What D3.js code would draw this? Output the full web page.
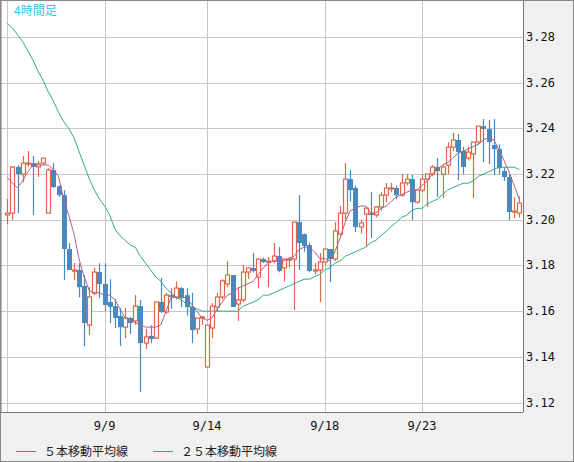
<!DOCTYPE html>
<html>
<head>
<meta charset="utf-8">
<script src="https://cdn.jsdelivr.net/npm/d3@7.9.0/dist/d3.min.js"></script>
<style>
  body { margin: 0; background: #f0f0f0; }
  svg { display: block; }
</style>
</head>
<body>
<svg id="chart" width="574" height="462"></svg>
<script>
// 4-hour candles: [open, high, low, close]
const candles = [
  [3.2021,3.2091,3.1981,3.2029],[3.2029,3.2235,3.1999,3.2231],[3.2231,3.2239,3.2029,3.2200],[3.2200,3.2279,3.2165,3.2248],
  [3.2244,3.2301,3.2231,3.2248],[3.2248,3.2279,3.2021,3.2231],[3.2231,3.2257,3.2187,3.2244],[3.2248,3.2270,3.2240,3.2270],
  [3.2029,3.2226,3.2029,3.2218],[3.2218,3.2248,3.2140,3.2143],[3.2147,3.2150,3.2100,3.2108],[3.2108,3.2130,3.1736,3.1872],
  [3.1872,3.1898,3.1780,3.1780],[3.1775,3.1810,3.1736,3.1780],[3.1780,3.1810,3.1660,3.1705],[3.1710,3.1758,3.1447,3.1548],
  [3.1539,3.1705,3.1495,3.1662],[3.1679,3.1790,3.1670,3.1771],[3.1771,3.1810,3.1657,3.1719],[3.1719,3.1810,3.1600,3.1627],
  [3.1640,3.1740,3.1548,3.1618],[3.1622,3.1653,3.1526,3.1570],[3.1579,3.1614,3.1447,3.1530],[3.1530,3.1614,3.1482,3.1570],
  [3.1570,3.1574,3.1500,3.1548],[3.1557,3.1670,3.1540,3.1622],[3.1622,3.1649,3.1246,3.1460],[3.1460,3.1522,3.1434,3.1487],
  [3.1491,3.1539,3.1460,3.1478],[3.1482,3.1640,3.1478,3.1640],[3.1640,3.1745,3.1592,3.1596],[3.1596,3.1679,3.1590,3.1670],
  [3.1670,3.1700,3.1610,3.1662],[3.1662,3.1730,3.1650,3.1701],[3.1701,3.1705,3.1618,3.1657],[3.1670,3.1700,3.1580,3.1618],
  [3.1618,3.1680,3.1460,3.1517],[3.1522,3.1560,3.1500,3.1570],[3.1570,3.1580,3.1540,3.1574],[3.1355,3.1539,3.1351,3.1539],
  [3.1526,3.1635,3.1482,3.1622],[3.1618,3.1680,3.1600,3.1662],[3.1662,3.1740,3.1650,3.1733],[3.1719,3.1819,3.1705,3.1758],
  [3.1758,3.1758,3.1618,3.1618],[3.1631,3.1705,3.1557,3.1649],[3.1649,3.1802,3.1640,3.1771],[3.1771,3.1790,3.1740,3.1789],
  [3.1789,3.1854,3.1770,3.1776],[3.1749,3.1830,3.1700,3.1828],[3.1828,3.1835,3.1810,3.1815],[3.1815,3.1837,3.1705,3.1819],
  [3.1819,3.1898,3.1810,3.1841],[3.1841,3.1880,3.1770,3.1776],[3.1789,3.1830,3.1730,3.1828],[3.1826,3.1837,3.1790,3.1828],
  [3.1828,3.1990,3.1605,3.1990],[3.1990,3.2108,3.1780,3.1898],[3.1937,3.1940,3.1860,3.1885],[3.1889,3.1900,3.1770,3.1776],
  [3.1778,3.1810,3.1760,3.1780],[3.1780,3.1854,3.1640,3.1815],[3.1815,3.1840,3.1800,3.1872],[3.1872,3.1872,3.1727,3.1828],
  [3.1828,3.1990,3.1820,3.1951],[3.1937,3.2060,3.1930,3.2029],[3.2029,3.2248,3.2000,3.2178],[3.2178,3.2218,3.2080,3.2130],
  [3.2139,3.2150,3.1946,3.1968],[3.1968,3.2000,3.1940,3.1986],[3.2025,3.2056,3.1885,3.2051],[3.2029,3.2121,3.1920,3.2021],
  [3.2021,3.2060,3.2010,3.2056],[3.2056,3.2121,3.2040,3.2108],[3.2108,3.2161,3.2077,3.2139],[3.2137,3.2161,3.2120,3.2139],
  [3.2139,3.2150,3.2090,3.2108],[3.2108,3.2200,3.2100,3.2161],[3.2161,3.2200,3.2150,3.2178],[3.2178,3.2196,3.1999,3.2077],
  [3.2077,3.2100,3.2070,3.2130],[3.2130,3.2200,3.2120,3.2178],[3.2178,3.2200,3.2056,3.2200],[3.2200,3.2239,3.2190,3.2231],
  [3.2231,3.2270,3.2100,3.2213],[3.2200,3.2239,3.2095,3.2231],[3.2239,3.2340,3.2200,3.2318],[3.2318,3.2380,3.2300,3.2349],
  [3.2349,3.2375,3.2174,3.2296],[3.2301,3.2320,3.2200,3.2231],[3.2270,3.2320,3.2260,3.2296],[3.2288,3.2340,3.2095,3.2340],
  [3.2340,3.2410,3.2330,3.2410],[3.2410,3.2441,3.2253,3.2397],[3.2397,3.2436,3.2244,3.2340],[3.2327,3.2441,3.2196,3.2309],
  [3.2309,3.2330,3.2200,3.2226],[3.2213,3.2230,3.2170,3.2187],[3.2187,3.2196,3.1999,3.2034],[3.2036,3.2099,3.2007,3.2038],
  [3.2029,3.2102,3.2010,3.2073]
];

const ma5 = [
  3.2186,3.216,3.214,3.217,3.221,3.224,3.224,3.224,3.224,3.222,3.219,3.209,3.202,3.194,3.183,3.175,3.169,3.168,3.168,3.167,
  3.167,3.165,3.161,3.157,3.156,3.155,3.154,3.153,3.153,3.153,3.154,3.160,3.166,3.166,3.166,3.166,3.163,3.160,3.157,3.156,
  3.157,3.161,3.164,3.167,3.168,3.170,3.171,3.172,3.173,3.176,3.179,3.181,3.182,3.182,3.182,3.183,3.184,3.187,3.188,3.188,
  3.186,3.183,3.183,3.182,3.186,3.192,3.199,3.204,3.205,3.206,3.206,3.203,3.203,3.205,3.206,3.208,3.210,3.211,3.212,3.213,
  3.213,3.215,3.217,3.220,3.222,3.224,3.225,3.227,3.229,3.230,3.231,3.232,3.233,3.235,3.236,3.235,3.231,3.226,3.221,3.215,
  3.209
];

const ma25 = [
  3.286,3.284,3.281,3.278,3.274,3.270,3.265,3.261,3.256,3.252,3.247,3.243,3.240,3.236,3.230,3.224,3.218,3.213,3.209,3.206,
  3.202,3.196,3.193,3.191,3.189,3.188,3.184,3.181,3.178,3.175,3.173,3.170,3.168,3.166,3.165,3.163,3.162,3.161,3.160,3.160,
  3.160,3.160,3.160,3.160,3.160,3.160,3.162,3.163,3.164,3.165,3.167,3.167,3.168,3.169,3.170,3.171,3.172,3.173,3.174,3.174,
  3.175,3.176,3.178,3.179,3.181,3.182,3.184,3.185,3.186,3.187,3.188,3.190,3.191,3.193,3.195,3.197,3.199,3.201,3.202,3.204,
  3.205,3.205,3.207,3.208,3.209,3.211,3.213,3.214,3.215,3.216,3.216,3.217,3.219,3.220,3.221,3.222,3.223,3.223,3.223,3.223,
  3.222
];

// candle index where each day gridline sits, and its label
const dayIdx = [0, 19, 39, 62, 81];
const dayLabels = ['', '9/9', '9/14', '9/18', '9/23'];
const yTicks = [3.12, 3.14, 3.16, 3.18, 3.20, 3.22, 3.24, 3.26, 3.28];

const plotW = 523, plotH = 412;
const step = 5.12;

const svg = d3.select('#chart');

let x = d3.scaleLinear().domain([0, 1]).range([7.3, 7.3 + step]);
let y = d3.scaleLinear().domain([3.12, 3.28]).range([402.5, 37]);

svg.append('rect').attr('x', 1).attr('y', 0).attr('width', plotW - 1).attr('height', plotH).attr('fill', '#fff');

let defs = svg.append('defs');
defs.append('clipPath').attr('id', 'clip').append('rect')
  .attr('x', 1).attr('y', 0).attr('width', plotW - 1).attr('height', plotH);

// gridlines
svg.append('g').selectAll('line').data(yTicks).join('line')
  .attr('x1', 1).attr('x2', plotW).attr('y1', (d) => Math.round(y(d)) + 0.5).attr('y2', (d) => Math.round(y(d)) + 0.5)
  .attr('stroke', '#c8c8c8');
svg.append('g').selectAll('line').data(dayIdx).join('line')
  .attr('x1', (d) => Math.round(x(d)) + 0.5).attr('x2', (d) => Math.round(x(d)) + 0.5).attr('y1', 0).attr('y2', plotH)
  .attr('stroke', '#c8c8c8');

const plot = svg.append('g').attr('clip-path', 'url(#clip)');

const up = '#d9694a', down = '#4a89c0';

candles.forEach(([o, h, l, c], i) => {
  let cx = Math.round(x(i)) + 0.5;
  let col = c >= o ? up : down;
  plot.append('line').attr('x1', cx).attr('x2', cx).attr('y1', y(h)).attr('y2', y(l))
    .attr('stroke', col).attr('stroke-width', 1.2);
  let top = y(Math.max(o, c)), bot = y(Math.min(o, c));
  if (c >= o) {
    plot.append('rect').attr('x', cx - 2).attr('y', top).attr('width', 4).attr('height', Math.max(1, bot - top))
      .attr('fill', '#fff').attr('stroke', col).attr('stroke-width', 1.2);
  } else {
    plot.append('rect').attr('x', cx - 2.5).attr('y', top).attr('width', 5).attr('height', Math.max(1, bot - top))
      .attr('fill', col);
  }
});

let line = d3.line().x((d, i) => x(i)).y((d) => y(d));
plot.append('path').attr('d', line(ma25)).attr('fill', 'none').attr('stroke', '#2ab07a').attr('stroke-width', 1);
plot.append('path').attr('d', line(ma5)).attr('fill', 'none').attr('stroke', '#b0608a').attr('stroke-width', 1);

// frame
svg.append('line').attr('x1', 0.5).attr('x2', 0.5).attr('y1', 0).attr('y2', plotH).attr('stroke', '#777').attr('stroke-width', 2);
svg.append('line').attr('x1', 0).attr('x2', plotW).attr('y1', plotH + 0.5).attr('y2', plotH + 0.5).attr('stroke', '#777');
svg.append('line').attr('x1', plotW + 0.5).attr('x2', plotW + 0.5).attr('y1', 0).attr('y2', plotH).attr('stroke', '#777');
svg.append('rect').attr('x', 0.5).attr('y', 0.5).attr('width', 573).attr('height', 461)
  .attr('fill', 'none').attr('stroke', '#888');

svg.append('text').attr('x', 14).attr('y', 15).text('4時間足')
  .attr('font-family', 'Noto Sans CJK JP').attr('font-size', 12).attr('fill', '#33c3f0');

// right price axis
svg.append('g').selectAll('text').data(yTicks).join('text')
  .attr('x', 526).attr('y', (d) => y(d) + 4).text((d) => d.toFixed(2))
  .attr('font-family', 'DejaVu Sans Mono').attr('font-size', 12).attr('fill', '#111');

// date axis
svg.append('g').selectAll('text').data(dayIdx).join('text')
  .attr('x', (d) => x(d)).attr('y', 430).attr('text-anchor', 'middle')
  .text((d, i) => dayLabels[i])
  .attr('font-family', 'DejaVu Sans Mono').attr('font-size', 12).attr('fill', '#111');

// legend
const legend = [['５本移動平均線', '#b0608a', 16], ['２５本移動平均線', '#2ab07a', 153]];
legend.forEach(([label, col, lx]) => {
  svg.append('line').attr('x1', lx).attr('x2', lx + 20).attr('y1', 451.5).attr('y2', 451.5).attr('stroke', col);
  svg.append('text').attr('x', lx + 28).attr('y', 456).text(label)
    .attr('font-family', 'Noto Sans CJK JP').attr('font-size', 12).attr('fill', '#222');
});
</script>
</body>
</html>
